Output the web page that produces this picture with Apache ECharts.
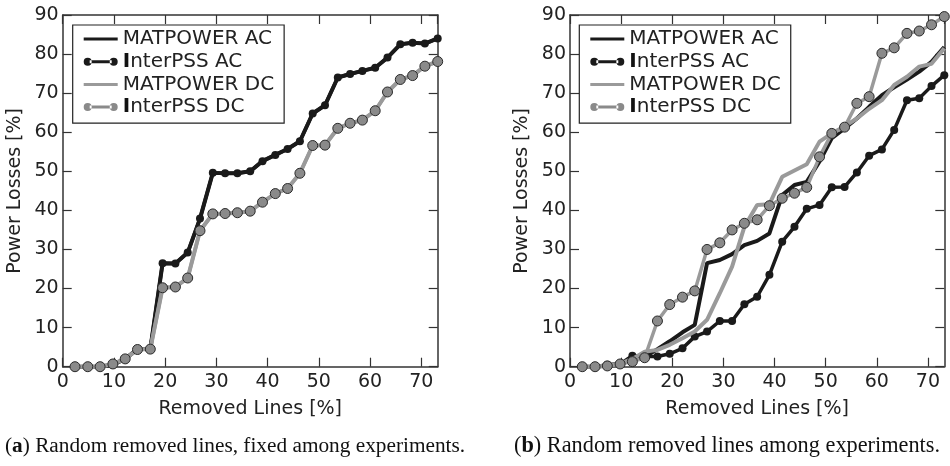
<!DOCTYPE html>
<html>
<head>
<meta charset="utf-8">
<script src="https://cdn.jsdelivr.net/npm/echarts@6/dist/echarts.min.js"></script>
<style>html,body{margin:0;padding:0;background:#fff;}#c{width:950px;height:466px;}</style>
</head>
<body>
<div id="c"></div>
<script>
// Removed lines [%] (x values of every point)
const removedPct = [2.4, 4.9, 7.3, 9.8, 12.2, 14.6, 17.1, 19.5, 22.0, 24.4, 26.8, 29.3, 31.7, 34.1, 36.6, 39.0, 41.5, 43.9, 46.3, 48.8, 51.2, 53.7, 56.1, 58.5, 61.0, 63.4, 65.9, 68.3, 70.7, 73.2];

// (a) Random removed lines, fixed among experiments
const aMatpowerAC = [0, 0, 0, 0.5, 2.0, 4.5, 4.5, 26.5, 26.4, 29.2, 37.9, 49.6, 49.5, 49.5, 50.0, 52.6, 54.2, 55.7, 57.7, 64.8, 66.9, 74.0, 74.9, 75.7, 76.5, 79.1, 82.5, 82.9, 82.7, 84.0];
const aInterpssAC = [0, 0, 0, 0.5, 2.0, 4.5, 4.5, 26.5, 26.4, 29.2, 37.9, 49.6, 49.5, 49.5, 50.0, 52.6, 54.2, 55.7, 57.7, 64.8, 66.9, 74.0, 74.9, 75.7, 76.5, 79.1, 82.5, 82.9, 82.7, 84.0];
const aMatpowerDC = [0, 0, 0, 0.7, 2.0, 4.4, 4.5, 20.2, 20.4, 22.7, 34.8, 39.1, 39.2, 39.4, 39.8, 42.1, 44.3, 45.6, 49.5, 56.6, 56.7, 61.0, 62.3, 63.1, 65.5, 70.3, 73.5, 74.5, 76.9, 78.1];
const aInterpssDC = [0, 0, 0, 0.7, 2.0, 4.4, 4.5, 20.2, 20.4, 22.7, 34.8, 39.1, 39.2, 39.4, 39.8, 42.1, 44.3, 45.6, 49.5, 56.6, 56.7, 61.0, 62.3, 63.1, 65.5, 70.3, 73.5, 74.5, 76.9, 78.1];

// (b) Random removed lines among experiments
const bMatpowerAC = [0, 0, 0.3, 0.8, 2.0, 2.5, 4.5, 6.5, 8.8, 10.7, 26.5, 27.3, 28.8, 31.1, 32.2, 34.1, 43.9, 46.5, 47.3, 52.5, 58.5, 61.0, 63.5, 66.5, 69.5, 71.5, 73.5, 75.5, 78.0, 81.8];
const bInterpssAC = [0, 0, 0.5, 0.7, 2.8, 2.6, 2.6, 3.3, 4.7, 7.7, 9.0, 11.7, 11.7, 16.0, 17.9, 23.5, 32.0, 35.8, 40.4, 41.4, 45.9, 46.0, 49.7, 54.0, 55.6, 60.6, 68.2, 68.7, 71.8, 74.6];
const bMatpowerDC = [0, 0, 0.3, 0.8, 2.0, 3.8, 4.3, 5.6, 7.3, 9.0, 12.0, 18.8, 25.6, 35.8, 41.4, 41.6, 48.6, 50.2, 51.8, 57.6, 59.7, 61.5, 63.5, 66.0, 68.2, 72.1, 74.2, 76.8, 77.5, 81.5];
const bInterpssDC = [0, 0, 0.2, 0.7, 1.3, 2.3, 11.7, 15.9, 17.8, 19.4, 30.0, 31.7, 35.0, 36.7, 37.6, 41.2, 43.1, 44.4, 45.9, 53.7, 59.7, 61.3, 67.4, 69.1, 80.2, 81.6, 85.3, 85.9, 87.5, 89.6];

const seriesNames = ['MATPOWER AC', 'InterPSS AC', 'MATPOWER DC', 'InterPSS DC'];
const xTitle = 'Removed Lines [%]';
const yTitle = 'Power Losses [%]';
const captionA = '({b|a}) Random removed lines, fixed among experiments.';
const captionB = '({b|b}) Random removed lines among experiments.';

const X_MIN = 0, X_MAX = 73.2, X_INT = 10;
const Y_MIN = 0, Y_MAX = 90, Y_INT = 10;

const SANS = 'DejaVu Sans';
const TXT = '#222';
const AX = '#333';
const BLACK = '#1a1a1a';
const GRAY = '#9a9a9a';
const GRAYFILL = '#8a8a8a';

function pairs(ys) { return removedPct.map((x, i) => [x, ys[i]]); }

const grids = [
  { left: 62.7, top: 15, width: 375, height: 351.7 },
  { left: 570, top: 15, width: 374.3, height: 351.7 }
];

function mainX(g) {
  return {
    type: 'value', gridIndex: g, min: X_MIN, max: X_MAX, interval: X_INT, position: 'bottom',
    name: xTitle, nameLocation: 'middle', nameGap: 33,
    nameTextStyle: { fontFamily: SANS, fontSize: 19, color: TXT },
    axisLine: { show: true, onZero: false, lineStyle: { color: AX, width: 1.5 } },
    axisTick: { show: true, inside: true, length: 9, lineStyle: { color: AX, width: 1.2 } },
    axisLabel: { show: true, margin: 6, fontFamily: SANS, fontSize: 19, color: TXT, showMaxLabel: false },
    splitLine: { show: false }
  };
}
function topX(g) {
  return {
    type: 'value', gridIndex: g, min: X_MIN, max: X_MAX, interval: X_INT, position: 'top',
    axisLine: { show: true, onZero: false, lineStyle: { color: AX, width: 1.5 } },
    axisTick: { show: true, inside: true, length: 9, lineStyle: { color: AX, width: 1.2 } },
    axisLabel: { show: false }, splitLine: { show: false }
  };
}
function mainY(g) {
  return {
    type: 'value', gridIndex: g, min: Y_MIN, max: Y_MAX, interval: Y_INT, position: 'left',
    name: yTitle, nameLocation: 'middle', nameGap: 38, nameRotate: 90,
    nameTextStyle: { fontFamily: SANS, fontSize: 19, color: TXT },
    axisLine: { show: true, onZero: false, lineStyle: { color: AX, width: 1.5 } },
    axisTick: { show: true, inside: true, length: 9, lineStyle: { color: AX, width: 1.2 } },
    axisLabel: { show: true, margin: 4, fontFamily: SANS, fontSize: 19, color: TXT },
    splitLine: { show: false }
  };
}
function rightY(g) {
  return {
    type: 'value', gridIndex: g, min: Y_MIN, max: Y_MAX, interval: Y_INT, position: 'right',
    axisLine: { show: true, onZero: false, lineStyle: { color: AX, width: 1.5 } },
    axisTick: { show: true, inside: true, length: 9, lineStyle: { color: AX, width: 1.2 } },
    axisLabel: { show: false }, splitLine: { show: false }
  };
}

function seriesSet(g, matAC, ipsAC, matDC, ipsDC) {
  const xi = g * 2, yi = g * 2;
  const base = { type: 'line', xAxisIndex: xi, yAxisIndex: yi, animation: false, clip: false };
  return [
    Object.assign({}, base, { name: seriesNames[0], data: pairs(matAC), showSymbol: false, symbol: 'none',
      lineStyle: { color: BLACK, width: 4 }, itemStyle: { color: BLACK }, z: 2 }),
    Object.assign({}, base, { name: seriesNames[1], data: pairs(ipsAC), symbol: 'circle', symbolSize: 8,
      lineStyle: { color: BLACK, width: 3.5 }, itemStyle: { color: BLACK }, z: 3 }),
    Object.assign({}, base, { name: seriesNames[2], data: pairs(matDC), showSymbol: false, symbol: 'none',
      lineStyle: { color: GRAY, width: 4 }, itemStyle: { color: GRAY }, z: 4 }),
    Object.assign({}, base, { name: seriesNames[3], data: pairs(ipsDC), symbol: 'circle', symbolSize: 10,
      lineStyle: { color: GRAY, width: 3.5 }, itemStyle: { color: GRAYFILL, borderColor: '#2a2a2a', borderWidth: 1 }, z: 5 })
  ];
}

const plainIcon = 'path://M0,3.5h34v3h-34z';
const dotIcon = 'path://M0,5a4,4 0 1,0 8,0a4,4 0 1,0 -8,0z M26,5a4,4 0 1,0 8,0a4,4 0 1,0 -8,0z M6,3.5h22v3h-22z';

function legendAt(left) {
  return {
    orient: 'vertical', left: left, top: 25,
    backgroundColor: '#fff', borderColor: '#222', borderWidth: 1.2, borderRadius: 0,
    padding: [4, 10, 6, 11], itemGap: 2.7, itemWidth: 34, itemHeight: 10,
    selectedMode: false,
    textStyle: { fontFamily: SANS, fontSize: 20, color: TXT, lineHeight: 20,
      rich: { i: { fontFamily: SANS, fontSize: 20, fontWeight: 'bold', color: '#111', lineHeight: 20 } } },
    formatter: function (n) { return n.charAt(0) === 'I' ? '{i|I}' + n.slice(1) : n; },
    data: [
      { name: seriesNames[0], icon: plainIcon, itemStyle: { color: BLACK, borderWidth: 0 } },
      { name: seriesNames[1], icon: dotIcon, itemStyle: { color: BLACK, borderWidth: 0 } },
      { name: seriesNames[2], icon: plainIcon, itemStyle: { color: GRAY, borderWidth: 0 } },
      { name: seriesNames[3], icon: dotIcon, itemStyle: { color: GRAYFILL, borderWidth: 0 } }
    ]
  };
}

function capStyle(size) {
  return { fontFamily: 'Liberation Serif', fontSize: size, fontWeight: 'normal', color: '#111',
    rich: { b: { fontFamily: 'Liberation Serif', fontSize: size, fontWeight: 'bold', color: '#111' } } };
}

const option = {
  backgroundColor: '#fff',
  animation: false,
  title: [
    { text: captionA, left: 5, top: 436, padding: 0, textStyle: capStyle(21.3) },
    { text: captionB, left: 514, top: 435, padding: 0, textStyle: capStyle(22.3) }
  ],
  legend: [legendAt(72.7), legendAt(579.3)],
  grid: grids,
  xAxis: [mainX(0), topX(0), mainX(1), topX(1)],
  yAxis: [mainY(0), rightY(0), mainY(1), rightY(1)],
  series: [].concat(
    seriesSet(0, aMatpowerAC, aInterpssAC, aMatpowerDC, aInterpssDC),
    seriesSet(1, bMatpowerAC, bInterpssAC, bMatpowerDC, bInterpssDC)
  )
};

const chart = echarts.init(document.getElementById('c'), null, { renderer: 'canvas' });
chart.setOption(option);
</script>
</body>
</html>
